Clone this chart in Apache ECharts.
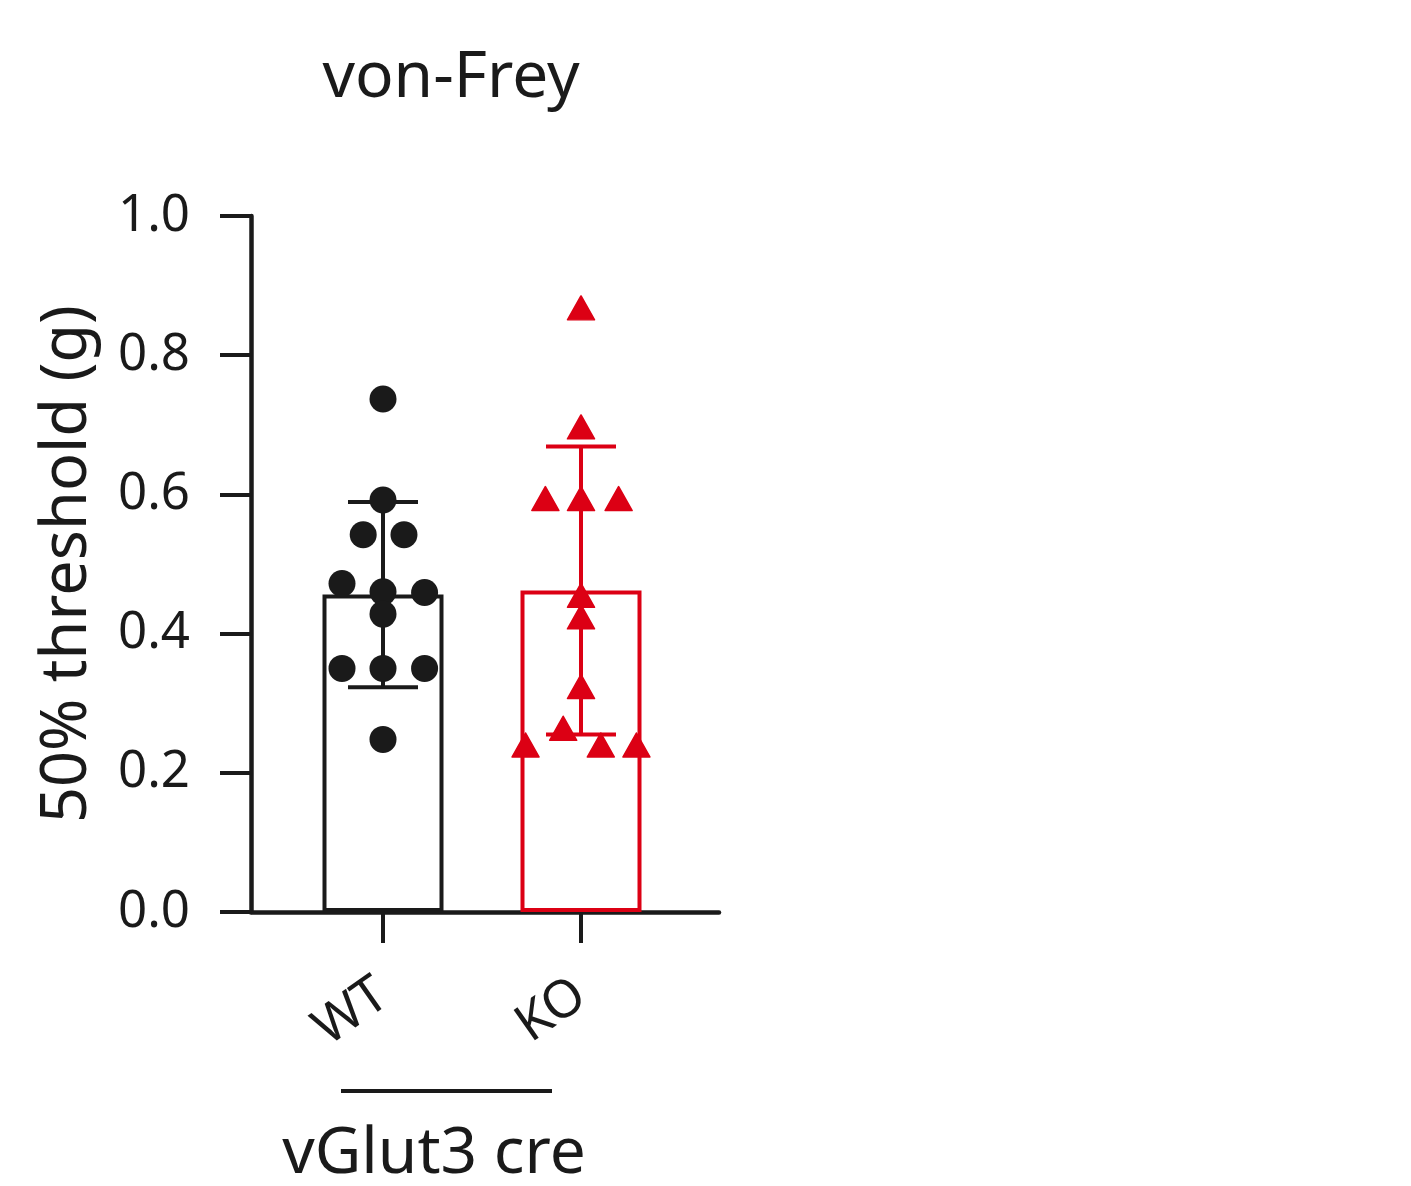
<!DOCTYPE html>
<html>
<head>
<meta charset="utf-8">
<script src="https://cdn.jsdelivr.net/npm/echarts@6/dist/echarts.min.js"></script>
<style>
  html, body { margin: 0; padding: 0; background: #fff; }
  #chart { width: 1411px; height: 1186px; }
</style>
</head>
<body>
<div id="chart"></div>
<script>
// ---- data ----
const categories = ['WT', 'KO'];
const yTicks = [0, 0.2, 0.4, 0.6, 0.8, 1.0];
const wtValues = [0.737, 0.592, 0.542, 0.542, 0.472, 0.460, 0.459, 0.428, 0.350, 0.350, 0.350, 0.248];
const koValues = [0.868, 0.697, 0.594, 0.594, 0.594, 0.455, 0.424, 0.324, 0.264, 0.240, 0.240, 0.240];
const barMeans = [0.456, 0.462];
const barSD = [0.133, 0.207];
// horizontal jitter of the dots (layout, in category-band units)
const wtJitter = [0, 0, -0.10, 0.106, -0.207, 0, 0.21, 0, -0.207, 0, 0.21, 0];
const koJitter = [0, 0, -0.18, 0, 0.19, 0, 0, 0, -0.09, -0.28, 0.10, 0.28];

const BLACK = '#1a1a1a';
const RED = '#dc0014';
const colors = [BLACK, RED];
const FONT = 'Noto Sans';

const chart = echarts.init(document.getElementById('chart'), null, { renderer: 'canvas' });

const gridTop = 216, gridBottom = 1186 - 912;

const option = {
  backgroundColor: '#ffffff',
  animation: false,
  title: {
    text: 'von-Frey',
    left: 451,
    top: 47,
    textAlign: 'center',
    padding: 0,
    textStyle: { fontFamily: FONT, fontSize: 64, fontWeight: 'normal', color: BLACK }
  },
  grid: [
    { left: 284, right: 1411 - 680, top: gridTop, bottom: gridBottom },
    { left: 251, right: 1411 - 719, top: gridTop, bottom: gridBottom }
  ],
  xAxis: [
    {
      type: 'category', gridIndex: 0, data: categories,
      axisLine: { show: false },
      axisTick: { show: true, alignWithLabel: true, length: 31, lineStyle: { color: BLACK, width: 4 } },
      axisLabel: { rotate: 35, margin: 78, fontFamily: FONT, fontSize: 52, color: BLACK }
    },
    { type: 'value', gridIndex: 0, min: -0.5, max: 1.5, show: false },
    {
      type: 'value', gridIndex: 1, min: 0, max: 1,
      axisLine: { show: true, lineStyle: { color: BLACK, width: 4.5 } },
      axisTick: { show: false }, axisLabel: { show: false }, splitLine: { show: false }
    }
  ],
  yAxis: [
    { type: 'value', gridIndex: 0, min: 0, max: 1, show: false },
    {
      type: 'value', gridIndex: 1, min: 0, max: 1, interval: 0.2,
      name: '50% threshold (g)', nameLocation: 'middle', nameGap: 151,
      nameTextStyle: { fontFamily: FONT, fontSize: 63, color: BLACK },
      axisLine: { show: true, lineStyle: { color: BLACK, width: 4.5 } },
      axisTick: { show: true, length: 31, lineStyle: { color: BLACK, width: 4 } },
      axisLabel: {
        margin: 61, fontFamily: FONT, fontSize: 51, color: BLACK,
        formatter: v => v.toFixed(1)
      },
      splitLine: { show: false }
    }
  ],
  series: [
    {
      type: 'bar', xAxisIndex: 0, yAxisIndex: 0, barWidth: 121, z: 1,
      data: barMeans.map((m, i) => ({
        value: m,
        itemStyle: { color: 'rgba(255,255,255,0)', borderColor: colors[i], borderWidth: 4 }
      }))
    },
    {
      type: 'custom', xAxisIndex: 0, yAxisIndex: 0, z: 2,
      data: barMeans.map((m, i) => [i, m, barSD[i]]),
      encode: { x: 0, y: 1 },
      renderItem: function (params, api) {
        const i = api.value(0), m = api.value(1), s = api.value(2);
        const top = api.coord([i, m + s]);
        const bot = api.coord([i, m - s]);
        const half = 35;
        const st = { stroke: colors[i], lineWidth: 4 };
        return {
          type: 'group',
          children: [
            { type: 'line', shape: { x1: top[0], y1: top[1], x2: bot[0], y2: bot[1] }, style: st },
            { type: 'line', shape: { x1: top[0] - half, y1: top[1], x2: top[0] + half, y2: top[1] }, style: st },
            { type: 'line', shape: { x1: bot[0] - half, y1: bot[1], x2: bot[0] + half, y2: bot[1] }, style: st }
          ]
        };
      }
    },
    {
      name: 'WT', type: 'scatter', xAxisIndex: 1, yAxisIndex: 0, z: 3,
      symbol: 'circle', symbolSize: 27,
      itemStyle: { color: BLACK, opacity: 1 },
      data: wtValues.map((v, k) => [0 + wtJitter[k], v])
    },
    {
      name: 'KO', type: 'scatter', xAxisIndex: 1, yAxisIndex: 0, z: 3,
      symbol: 'triangle', symbolSize: [27, 24],
      itemStyle: { color: RED, opacity: 1, borderColor: RED, borderWidth: 1.5, borderJoin: 'round' },
      data: koValues.map((v, k) => [1 + koJitter[k], v])
    }
  ],
  graphic: [
    {
      type: 'line', shape: { x1: 341, y1: 1091, x2: 552, y2: 1091 },
      style: { stroke: BLACK, lineWidth: 4 }
    },
    {
      type: 'text', x: 434, y: 1155,
      style: {
        text: 'vGlut3 cre', fontFamily: FONT, fontSize: 64, fill: BLACK,
        textAlign: 'center', textVerticalAlign: 'middle'
      }
    }
  ]
};

chart.setOption(option);
</script>
</body>
</html>
